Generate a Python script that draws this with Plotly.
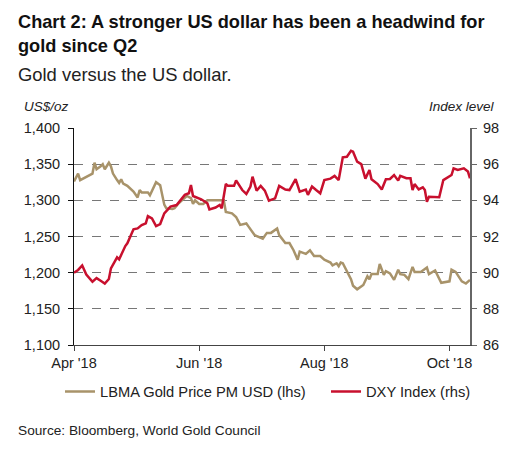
import plotly.graph_objects as go

gold_dates = ["2018-04-01","2018-04-03","2018-04-04","2018-04-06","2018-04-08","2018-04-10","2018-04-11","2018-04-12",
              "2018-04-14","2018-04-15","2018-04-16","2018-04-18","2018-04-19","2018-04-20","2018-04-22","2018-04-23",
              "2018-04-24","2018-04-25","2018-04-27","2018-04-30","2018-05-02","2018-05-03","2018-05-04","2018-05-07",
              "2018-05-08","2018-05-11","2018-05-13","2018-05-14","2018-05-15","2018-05-16","2018-05-19","2018-05-20",
              "2018-05-22","2018-05-24","2018-05-26","2018-05-28","2018-05-29","2018-05-30","2018-06-01","2018-06-03",
              "2018-06-05","2018-06-13","2018-06-14","2018-06-17","2018-06-19","2018-06-21","2018-06-24","2018-06-25",
              "2018-06-28","2018-07-02","2018-07-04","2018-07-06","2018-07-09","2018-07-10","2018-07-13","2018-07-15",
              "2018-07-17","2018-07-19","2018-07-20","2018-07-23","2018-07-25","2018-07-27","2018-07-30","2018-08-01",
              "2018-08-04","2018-08-05","2018-08-07","2018-08-08","2018-08-09","2018-08-10","2018-08-12","2018-08-14",
              "2018-08-15","2018-08-17","2018-08-20","2018-08-22","2018-08-23","2018-08-24","2018-08-27","2018-08-28",
              "2018-08-30","2018-08-31","2018-09-02","2018-09-04","2018-09-06","2018-09-07","2018-09-09","2018-09-11",
              "2018-09-13","2018-09-14","2018-09-17","2018-09-20","2018-09-21","2018-09-24","2018-09-27","2018-10-01",
              "2018-10-02","2018-10-04","2018-10-07","2018-10-09","2018-10-11"]
gold_values = [1326,1337,1328,1331,1333,1337,1352,1343,
               1347,1350,1343,1352,1347,1337,1328,1324,
               1329,1323,1320,1312,1304,1314,1311,1311,
               1307,1325,1321,1307,1294,1289,1288,1289,
               1296,1301,1306,1303,1295,1300,1295,1295,
               1300,1300,1284,1282,1277,1266,1268,1264,
               1252,1247,1255,1255,1261,1252,1241,1241,
               1231,1218,1229,1226,1231,1223,1223,1218,
               1214,1210,1213,1209,1214,1213,1201,1191,
               1182,1177,1183,1195,1191,1198,1198,1212,
               1197,1202,1199,1190,1204,1198,1197,1191,
               1208,1201,1201,1207,1198,1203,1186,1188,
               1204,1201,1188,1185,1190]

dxy_dates = ["2018-04-01","2018-04-03","2018-04-05","2018-04-06","2018-04-07","2018-04-10","2018-04-12","2018-04-14",
             "2018-04-16","2018-04-18","2018-04-19","2018-04-22","2018-04-23","2018-04-26","2018-04-27","2018-04-30",
             "2018-05-02","2018-05-04","2018-05-06","2018-05-07","2018-05-09","2018-05-11","2018-05-13","2018-05-15",
             "2018-05-18","2018-05-21","2018-05-23","2018-05-25","2018-05-27","2018-05-28","2018-05-29","2018-05-31",
             "2018-06-02","2018-06-05","2018-06-06","2018-06-09","2018-06-11","2018-06-12","2018-06-14","2018-06-15",
             "2018-06-18","2018-06-19","2018-06-22","2018-06-24","2018-06-26","2018-06-27","2018-06-29","2018-07-01",
             "2018-07-03","2018-07-05","2018-07-08","2018-07-10","2018-07-13","2018-07-15","2018-07-17","2018-07-18",
             "2018-07-20","2018-07-23","2018-07-24","2018-07-26","2018-07-28","2018-07-30","2018-08-01","2018-08-04",
             "2018-08-06","2018-08-08","2018-08-10","2018-08-12","2018-08-14","2018-08-15","2018-08-17","2018-08-19",
             "2018-08-21","2018-08-23","2018-08-24","2018-08-27","2018-08-29","2018-08-31","2018-09-02","2018-09-04",
             "2018-09-06","2018-09-07","2018-09-10","2018-09-12","2018-09-13","2018-09-14","2018-09-16","2018-09-18",
             "2018-09-19","2018-09-20","2018-09-21","2018-09-24","2018-09-26","2018-09-28","2018-09-30","2018-10-02",
             "2018-10-03","2018-10-05","2018-10-08","2018-10-10","2018-10-11"]
dxy_values = [90.0,90.15,90.4,90.15,89.9,89.5,89.7,89.55,
              89.4,89.65,90.24,90.85,90.74,91.47,91.62,92.4,
              92.45,92.63,92.73,93.13,93.0,92.58,92.69,93.28,
              93.65,93.74,94.0,94.3,94.39,94.85,94.24,94.17,
              94.06,93.84,93.5,93.6,93.74,93.56,94.9,94.8,
              94.8,95.1,94.57,94.35,94.76,95.31,94.54,94.8,
              94.54,93.98,94.11,94.8,94.6,94.57,94.98,95.17,
              94.48,94.6,94.3,94.76,94.57,94.39,95.12,95.2,
              95.35,95.12,96.38,96.41,96.74,96.69,96.14,96.0,
              95.2,95.68,95.17,94.9,94.6,95.17,95.18,95.4,
              95.09,95.35,95.22,95.22,94.57,94.9,94.6,94.72,
              94.57,93.92,94.2,94.2,94.17,95.12,95.27,95.4,
              95.77,95.68,95.77,95.59,95.22]

x_tick_vals = ["2018-04-01", "2018-06-01", "2018-08-01", "2018-10-01"]
x_tick_text = ["Apr '18", "Jun '18", "Aug '18", "Oct '18"]
left_ticks = [1100, 1150, 1200, 1250, 1300, 1350, 1400]
right_ticks = [86, 88, 90, 92, 94, 96, 98]

GOLD = "#A8936A"
RED = "#C8102E"
FONT = "Liberation Sans, Arial, sans-serif"

fig = go.Figure()
fig.add_trace(go.Scatter(x=gold_dates, y=gold_values, mode="lines", name="LBMA Gold Price PM USD (lhs)",
                         line=dict(color=GOLD, width=2.5), yaxis="y", legend="legend"))
fig.add_trace(go.Scatter(x=dxy_dates, y=dxy_values, mode="lines", name="DXY Index (rhs)",
                         line=dict(color=RED, width=2.5), yaxis="y2", legend="legend2"))

leg_y = (345 - 392) / 217
# page shows the figure offset by the 8px body margin, so the figure is sized to fit
fig.update_layout(
    width=516, height=442,
    margin=dict(l=66, r=54, t=120, b=105),
    paper_bgcolor="white", plot_bgcolor="white",
    font=dict(family=FONT, size=14, color="#222"),
    showlegend=True,
    legend=dict(orientation="h", x=(60 - 74) / 396, xanchor="left", y=leg_y, yanchor="middle",
                font=dict(size=14.7, color="#222")),
    legend2=dict(orientation="h", x=(326 - 74) / 396, xanchor="left", y=leg_y, yanchor="middle",
                 font=dict(size=14.7, color="#222")),
    xaxis=dict(type="date", range=["2018-04-01", "2018-10-11"], tickvals=x_tick_vals, ticktext=x_tick_text,
               showgrid=False, showline=True, linecolor="#444", linewidth=1,
               ticks="outside", ticklen=5, tickcolor="#444", tickfont=dict(size=14.5, color="#222"), zeroline=False),
    yaxis=dict(range=[1100, 1400], tickvals=left_ticks, tickformat=",", showline=True, linecolor="#111", linewidth=1,
               ticks="outside", ticklen=5, tickcolor="#111", showgrid=True, gridcolor="#777", griddash="dash",
               gridwidth=1, zeroline=False, tickfont=dict(size=14.5, color="#222"), ticklabelstandoff=5),
    yaxis2=dict(range=[86, 98], tickvals=right_ticks, overlaying="y", side="right", showline=True,
                linecolor="#666", linewidth=2, ticks="outside", ticklen=5, tickcolor="#666",
                showgrid=False, zeroline=False, tickfont=dict(size=14.5, color="#222"), ticklabelstandoff=3),
)

fig.add_annotation(text="<b>Chart 2: A stronger US dollar has been a headwind for<br>gold since Q2</b>",
                   xref="paper", yref="paper", x=-58/396, y=(345-10)/217, xanchor="left", yanchor="top",
                   align="left", showarrow=False, font=dict(family=FONT, size=18.2, color="#111"))
fig.add_annotation(text="Gold versus the US dollar.", xref="paper", yref="paper", x=-58/396, y=(345-62)/217,
                   xanchor="left", yanchor="top", showarrow=False, font=dict(size=18.4, color="#222"))
fig.add_annotation(text="<i>US$/oz</i>", xref="paper", yref="paper", x=-52/396, y=(345-97)/217,
                   xanchor="left", yanchor="top", showarrow=False, font=dict(size=13.5, color="#222"))
fig.add_annotation(text="<i>Index level</i>", xref="paper", yref="paper", x=(497-74)/396, y=(345-97)/217,
                   xanchor="right", yanchor="top", showarrow=False, font=dict(size=13.5, color="#222"))
fig.add_annotation(text="Source: Bloomberg, World Gold Council", xref="paper", yref="paper", x=-58/396,
                   y=(345-421)/217, xanchor="left", yanchor="top", showarrow=False,
                   font=dict(size=13.7, color="#222"))

fig.write_html("out.html")
